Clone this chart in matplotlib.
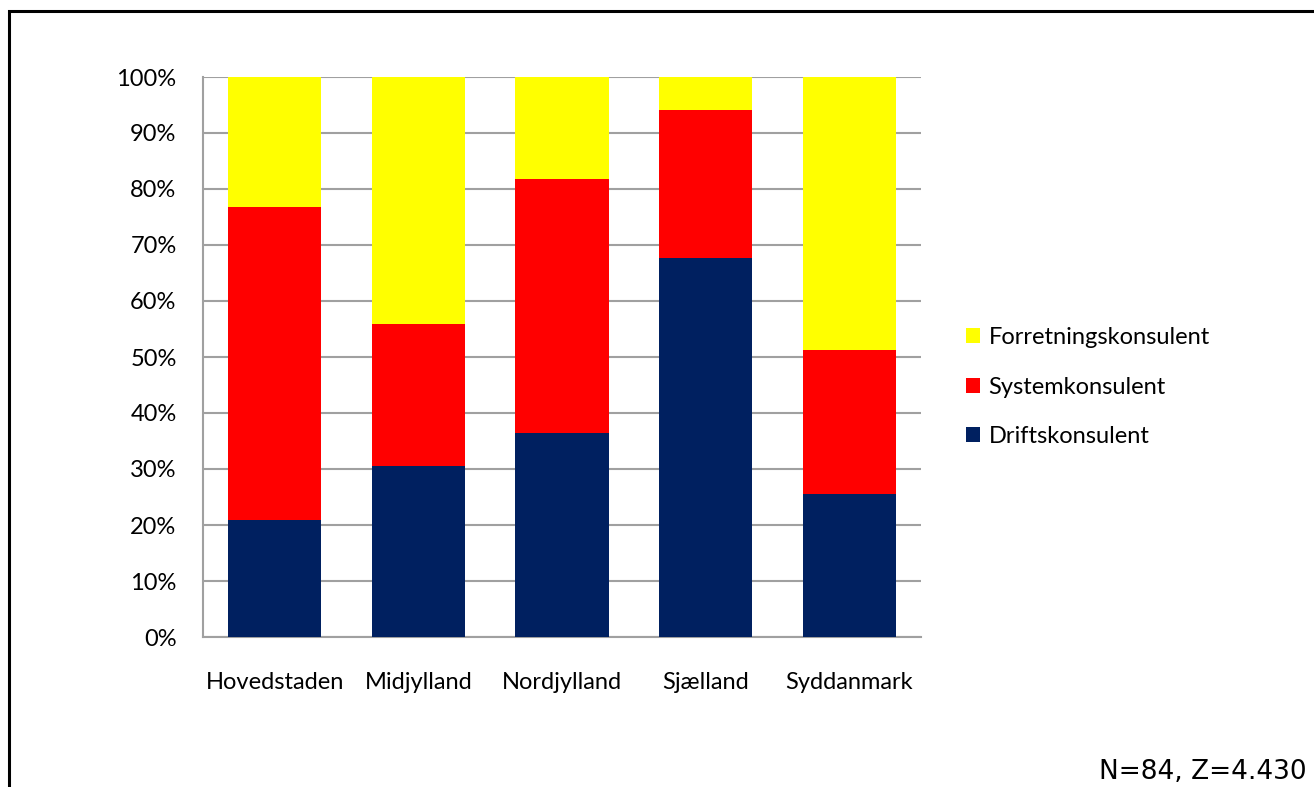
import numpy as np
import matplotlib.pyplot as plt
from matplotlib.patches import Rectangle

regions = ["Hovedstaden", "Midjylland", "Nordjylland", "Sjælland", "Syddanmark"]
drift = [20.9, 30.6, 36.4, 67.6, 25.6]
system = [55.9, 25.3, 45.3, 26.5, 25.7]
forretning = [23.2, 44.1, 18.3, 5.9, 48.7]
yticks = np.arange(0, 101, 10)

plt.rcParams["font.family"] = ["Lato", "DejaVu Sans"]

fig = plt.figure(figsize=(13.14, 7.87), dpi=100)
ax = fig.add_axes([203 / 1314, 1 - 637 / 787, 718 / 1314, 560 / 787])

x = np.arange(len(regions))
w = 0.65
bottom2 = np.array(drift)
bottom3 = bottom2 + np.array(system)
ax.bar(x, drift, w, color="#002060", label="Driftskonsulent", zorder=3)
ax.bar(x, system, w, bottom=bottom2, color="#ff0000", label="Systemkonsulent", zorder=3)
ax.bar(x, forretning, w, bottom=bottom3, color="#ffff00", label="Forretningskonsulent", zorder=3)

ax.set_xlim(-0.5, len(regions) - 0.5)
ax.set_ylim(0, 100)
ax.set_yticks(yticks)
ax.set_yticklabels([f"{v}%" for v in yticks], fontsize=17)
ax.set_xticks(x)
ax.set_xticklabels(regions, fontsize=17)
ax.tick_params(axis="both", length=0)
ax.tick_params(axis="y", pad=19)
ax.tick_params(axis="x", pad=25)
ax.yaxis.grid(True, color="#a0a0a0", linewidth=1.5, zorder=0)
for side in ["top", "right"]:
    ax.spines[side].set_visible(False)
for side in ["left", "bottom"]:
    ax.spines[side].set_color("#a0a0a0")
    ax.spines[side].set_linewidth(1.5)

handles, labels = ax.get_legend_handles_labels()
fig.legend(handles[::-1], labels[::-1], loc="center left",
           bbox_to_anchor=(945 / 1314, 1 - 387 / 787), frameon=False,
           fontsize=17, handlelength=0.6, handleheight=0.6,
           handletextpad=0.35, labelspacing=1.2)

# outer frame, running off the right and bottom edges
fig.patches.append(Rectangle((9 / 1314, -0.1), 1.2, 1 - 11 / 787 + 0.1,
                             transform=fig.transFigure, fill=False,
                             edgecolor="black", linewidth=2.2))

fig.text(1307 / 1314, 1 - 785 / 787, "N=84, Z=4.430", ha="right", va="bottom",
         fontsize=19, family="DejaVu Sans")

fig.savefig("out.png", dpi=100)
